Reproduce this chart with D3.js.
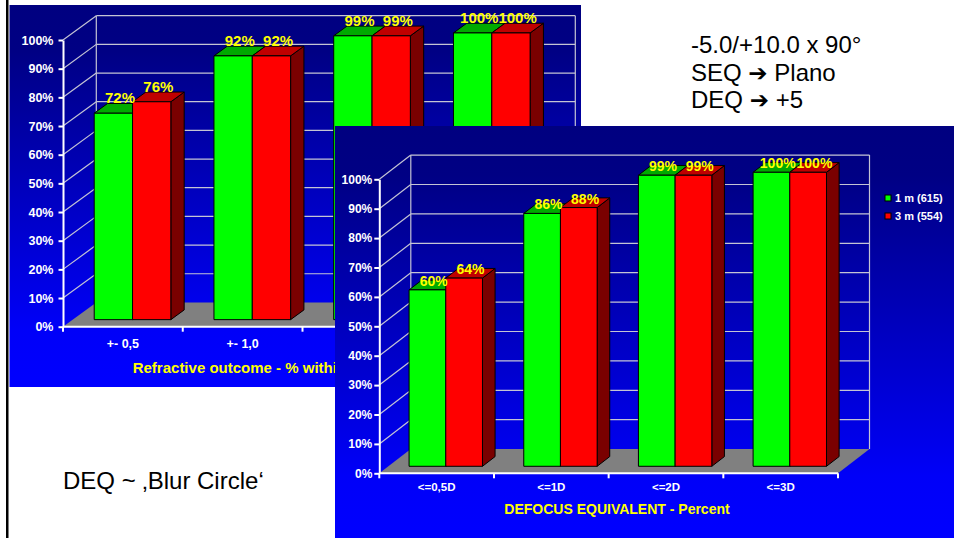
<!DOCTYPE html>
<html>
<head>
<meta charset="utf-8">
<script src="https://cdn.jsdelivr.net/npm/d3@7"></script>
<style>
  html, body { margin: 0; padding: 0; background: #ffffff; overflow: hidden; }
  text { font-family: "Liberation Sans", Arial, sans-serif; }
</style>
</head>
<body>
<svg id="slide" width="954" height="538"></svg>
<script>
// Refractive outcome: share of eyes within each dioptre band
const refractionCategories = ["+- 0,5", "+- 1,0", "+- 2,0", "+- 3,0"];
const refraction1m = [72, 92, 99, 100];
const refraction3m = [76, 92, 99, 100];

// Defocus equivalent: share of eyes within each dioptre limit
const defocusCategories = ["<=0,5D", "<=1D", "<=2D", "<=3D"];
const defocus1m = [60, 86, 99, 100];
const defocus3m = [64, 88, 99, 100];

const seriesNames = ["1 m (615)", "3 m (554)"];
const percentTicks = [0, 10, 20, 30, 40, 50, 60, 70, 80, 90, 100];

const slideNotes = ["-5.0/+10.0 x 90°", "SEQ", "Plano", "DEQ", "+5"];
const blurNote = "DEQ ~ \u201aBlur Circle\u2018";

const seriesColors = [
  { front: "#00ff00", top: "#00aa00", side: "#007000" },
  { front: "#ff0000", top: "#c00000", side: "#7a0000" }
];

const svg = d3.select("#slide");
const defs = svg.append("defs");

// left margin rule of the slide
svg.append("rect").attr("x", 6).attr("y", 0).attr("width", 2.5).attr("height", 538).attr("fill", "#000");

function makeGradient(id) {
  const lg = defs.append("linearGradient").attr("id", id)
    .attr("x1", 0).attr("y1", 0).attr("x2", 0).attr("y2", 1);
  lg.append("stop").attr("offset", "0").attr("stop-color", "#000080");
  lg.append("stop").attr("offset", "0.12").attr("stop-color", "#000084");
  lg.append("stop").attr("offset", "0.85").attr("stop-color", "#0000f8");
  lg.append("stop").attr("offset", "1").attr("stop-color", "#0000ff");
}

// 3D clustered column chart with back wall, side wall and floor
function drawChart(o) {
  const g = svg.append("g");
  makeGradient(o.id + "-bg");
  g.append("rect")
    .attr("x", o.panel[0]).attr("y", o.panel[1])
    .attr("width", o.panel[2]).attr("height", o.panel[3])
    .attr("fill", `url(#${o.id}-bg)`);

  const x = d3.scaleBand().domain(o.categories).range([o.x0, o.x1])
    .paddingInner(0.36).paddingOuter(0.18);
  const xs = d3.scaleBand().domain(d3.range(o.series.length)).range([0, x.bandwidth()]);
  const y = d3.scaleLinear().domain([0, 100]).range([o.y0, o.y100]);
  const P = (px, v, f) => [px + f * o.dx, y(v) + f * o.dy];
  const line = d3.line();
  const grid = "#c4c4d4";

  // back wall gridlines and edges
  const gridG = g.append("g").attr("fill", "none").attr("stroke", grid).attr("stroke-width", 1.2);
  gridG.selectAll("path.h").data(percentTicks.filter(t => t > 0)).join("path")
    .attr("class", "h")
    .attr("d", t => line([P(o.x0, t, 1), P(o.x1, t, 1)]));
  gridG.append("path").attr("d", line([P(o.x0, 0, 1), P(o.x0, 100, 1)]));
  gridG.append("path").attr("d", line([P(o.x1, 0, 1), P(o.x1, 100, 1)]));
  // side wall diagonals
  gridG.selectAll("path.d").data(percentTicks.filter(t => t > 0)).join("path")
    .attr("class", "d")
    .attr("d", t => line([P(o.x0, t, 0), P(o.x0, t, 1)]));

  // floor
  g.append("path")
    .attr("d", line([P(o.x0, 0, 0), P(o.x1, 0, 0), P(o.x1, 0, 1), P(o.x0, 0, 1)]) + "Z")
    .attr("fill", "#808080");

  // bars
  const f0 = 0.29, f1 = 0.69;
  const barsG = g.append("g").attr("stroke", "#000").attr("stroke-width", 1).attr("stroke-linejoin", "round");
  const labels = [];
  o.categories.forEach((c, ci) => {
    o.series.forEach((vals, si) => {
      const v = vals[ci];
      const bx = x(c) + xs(si);
      const bw = xs.bandwidth();
      const col = seriesColors[si];
      barsG.append("path")
        .attr("d", line([P(bx + bw, v, f0), P(bx + bw, v, f1), P(bx + bw, 0, f1), P(bx + bw, 0, f0)]) + "Z")
        .attr("fill", col.side);
      barsG.append("path")
        .attr("d", line([P(bx, v, f0), P(bx + bw, v, f0), P(bx + bw, v, f1), P(bx, v, f1)]) + "Z")
        .attr("fill", col.top);
      barsG.append("path")
        .attr("d", line([P(bx, v, f0), P(bx + bw, v, f0), P(bx + bw, 0, f0), P(bx, 0, f0)]) + "Z")
        .attr("fill", col.front);
      labels.push({
        v,
        x: bx + bw / 2 + (f0 + f1) / 2 * o.dx,
        y: P(bx, v, f0)[1] - o.labelOffset
      });
    });
  });

  g.append("g").selectAll("text").data(labels).join("text")
    .attr("x", d => d.x).attr("y", d => d.y)
    .attr("text-anchor", "middle")
    .attr("font-weight", "bold").attr("font-size", o.labelSize)
    .attr("fill", "#ffff00")
    .text(d => d.v + "%");

  // value axis
  const yAxis = g.append("g").attr("transform", `translate(${o.x0},0)`)
    .call(d3.axisLeft(y).tickValues(percentTicks).tickFormat(d => d + "%")
      .tickSize(o.yTickSize).tickSizeOuter(0).tickPadding(o.yTickPad));
  yAxis.select(".domain").attr("stroke", "#fff").attr("stroke-width", 2);
  yAxis.selectAll(".tick line").attr("stroke", "#fff").attr("stroke-width", 2);
  yAxis.selectAll(".tick text").attr("fill", "#fff").attr("font-weight", "bold")
    .attr("font-size", o.yTickFont).attr("font-family", "Liberation Sans, Arial, sans-serif");

  // category axis
  const bounds = d3.range(o.categories.length + 1).map(i => o.x0 + i * x.step());
  g.append("path").attr("d", line([[o.x0, o.y0], [o.x1, o.y0]]))
    .attr("stroke", "#fff").attr("stroke-width", 2);
  g.append("g").selectAll("path").data(bounds).join("path")
    .attr("d", b => line([[b, o.y0], [b, o.y0 + 5]]))
    .attr("stroke", "#fff").attr("stroke-width", 2);
  const xAxis = g.append("g").attr("transform", `translate(0,${o.y0})`)
    .call(d3.axisBottom(x).tickSize(0).tickPadding(o.xTickPad));
  xAxis.select(".domain").remove();
  xAxis.selectAll(".tick text").attr("fill", "#fff").attr("font-weight", "bold")
    .attr("font-size", o.xTickFont).attr("font-family", "Liberation Sans, Arial, sans-serif");

  // axis title
  g.append("text")
    .attr("x", o.title.x).attr("y", o.title.y)
    .attr("text-anchor", o.title.anchor)
    .attr("font-weight", "bold").attr("font-size", o.title.size)
    .attr("fill", "#ffff00")
    .text(o.title.text);

  // legend
  if (o.legend) {
    const lg = g.append("g");
    o.legend.names.forEach((n, i) => {
      lg.append("rect")
        .attr("x", o.legend.x).attr("y", o.legend.y + i * o.legend.step)
        .attr("width", 6).attr("height", 6)
        .attr("fill", seriesColors[i].front).attr("stroke", "#000").attr("stroke-width", 1);
      lg.append("text")
        .attr("x", o.legend.x + 10).attr("y", o.legend.y + i * o.legend.step + 7)
        .attr("font-weight", "bold").attr("font-size", 11).attr("fill", "#fff")
        .text(n);
    });
  }
}

drawChart({
  id: "refraction",
  panel: [9.5, 5, 571.5, 382],
  categories: refractionCategories,
  series: [refraction1m, refraction3m],
  x0: 63, x1: 542, y0: 326.7, y100: 40,
  dx: 33.3, dy: -24.3,
  labelOffset: 10, labelSize: 15,
  yTickSize: 4.5, yTickPad: 5, yTickFont: 12.5,
  xTickPad: 12.7, xTickFont: 12.5,
  title: { text: "Refractive outcome - % within range (dpt)", x: 132.7, y: 373.3, anchor: "start", size: 15 }
});

drawChart({
  id: "defocus",
  panel: [335, 126, 619, 412],
  categories: defocusCategories,
  series: [defocus1m, defocus3m],
  x0: 379.3, x1: 838, y0: 473.3, y100: 179.3,
  dx: 31.5, dy: -24.2,
  labelOffset: 4, labelSize: 14,
  yTickSize: 5, yTickPad: 2, yTickFont: 12,
  xTickPad: 9.5, xTickFont: 11.5,
  title: { text: "DEFOCUS EQUIVALENT - Percent", x: 617, y: 514, anchor: "middle", size: 14 },
  legend: { names: seriesNames, x: 885, y: 195, step: 18 }
});

// slide notes
const notes = svg.append("g").attr("font-size", 24).attr("fill", "#000");
notes.append("text").attr("x", 691).attr("y", 53).text(slideNotes[0]);
const seq = notes.append("text").attr("x", 691).attr("y", 80.5);
seq.append("tspan").text(slideNotes[1] + " ");
seq.append("tspan").attr("font-family", "DejaVu Sans").attr("font-size", 23).text("\u2794");
seq.append("tspan").text(" " + slideNotes[2]);
const deq = notes.append("text").attr("x", 691).attr("y", 108);
deq.append("tspan").text(slideNotes[3] + " ");
deq.append("tspan").attr("font-family", "DejaVu Sans").attr("font-size", 23).text("\u2794");
deq.append("tspan").text(" " + slideNotes[4]);

svg.append("text").attr("x", 63).attr("y", 489)
  .attr("font-size", 24).attr("fill", "#000")
  .text(blurNote);
</script>
</body>
</html>
